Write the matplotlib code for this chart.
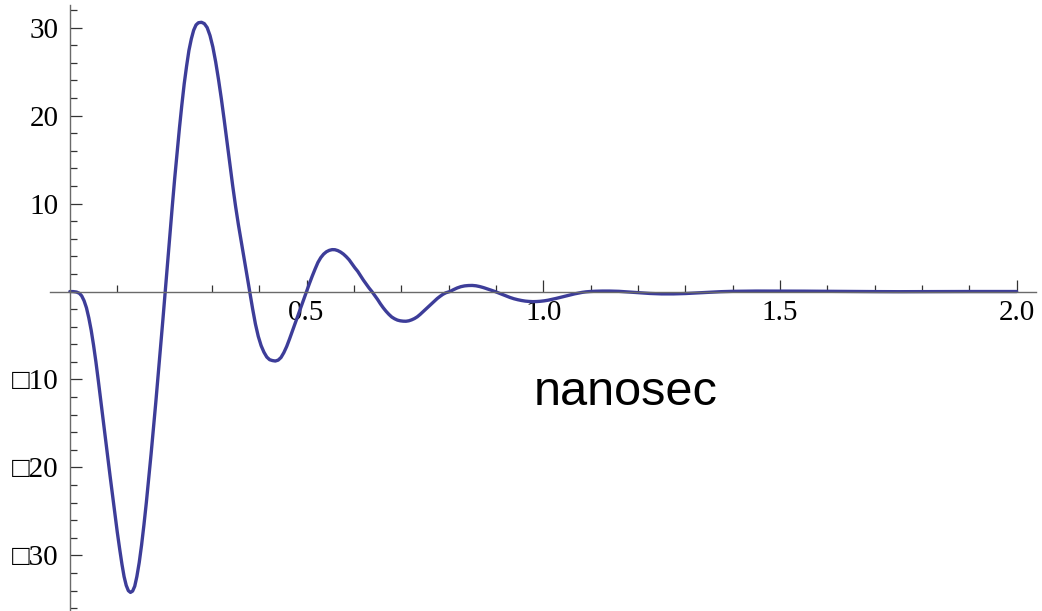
import matplotlib.pyplot as plt
import numpy as np

# time axis (nanoseconds) and response
T_NS = [0.0, 0.007, 0.014, 0.02, 0.025, 0.03, 0.035, 0.04, 0.045, 0.05,
        0.055, 0.06, 0.065, 0.07, 0.075, 0.08, 0.085, 0.09, 0.095, 0.1,
        0.105, 0.11, 0.1145, 0.119, 0.1235, 0.128, 0.1325, 0.137, 0.1415, 0.1465,
        0.1515, 0.1565, 0.1615, 0.1665, 0.1715, 0.1765, 0.1815, 0.1865, 0.1915, 0.1965,
        0.2015, 0.2065, 0.2115, 0.2165, 0.2215, 0.2265, 0.2315, 0.2365, 0.2415, 0.2465,
        0.2515, 0.2565, 0.2615, 0.2665, 0.2715, 0.278, 0.284, 0.29, 0.296, 0.302,
        0.308, 0.314, 0.32, 0.326, 0.332, 0.338, 0.344, 0.35, 0.356, 0.362,
        0.368, 0.374, 0.38, 0.386, 0.392, 0.398, 0.404, 0.41, 0.416, 0.422,
        0.428, 0.434, 0.44, 0.446, 0.452, 0.458, 0.464, 0.47, 0.476, 0.482,
        0.488, 0.494, 0.5, 0.506, 0.512, 0.518, 0.524, 0.53, 0.536, 0.542,
        0.548, 0.554, 0.56, 0.566, 0.572, 0.578, 0.584, 0.59, 0.596, 0.602,
        0.608, 0.614, 0.62, 0.626, 0.632, 0.638, 0.644, 0.65, 0.656, 0.662,
        0.668, 0.674, 0.68, 0.686, 0.692, 0.698, 0.704, 0.71, 0.716, 0.722,
        0.728, 0.734, 0.74, 0.746, 0.752, 0.758, 0.764, 0.77, 0.776, 0.782,
        0.788, 0.794, 0.803, 0.81, 0.818, 0.826, 0.834, 0.842, 0.85, 0.858,
        0.866, 0.874, 0.882, 0.89, 0.898, 0.906, 0.914, 0.922, 0.93, 0.938,
        0.946, 0.954, 0.962, 0.97, 0.978, 0.986, 0.994, 1.002, 1.01, 1.018,
        1.026, 1.034, 1.042, 1.05, 1.058, 1.066, 1.074, 1.082, 1.09, 1.099,
        1.11, 1.125, 1.14, 1.16, 1.18, 1.2, 1.225, 1.25, 1.275, 1.3,
        1.325, 1.35, 1.375, 1.4, 1.45, 1.5, 1.55, 1.6, 1.65, 1.7,
        1.75, 1.8, 1.85, 1.9, 2.0]
SIGNAL = [0.0, -0.01, -0.06, -0.2, -0.5, -1.05, -1.85, -3.0, -4.4, -6.1,
          -8.0, -10.1, -12.3, -14.5, -16.7, -18.9, -21.0, -23.1, -25.2, -27.3,
          -29.2, -31.0, -32.4, -33.4, -34.0, -34.2, -34.05, -33.5, -32.4, -30.8,
          -28.8, -26.5, -24.0, -21.3, -18.5, -15.6, -12.6, -9.5, -6.4, -3.2,
          0.0, 3.3, 6.6, 9.8, 12.9, 15.8, 18.6, 21.2, 23.6, 25.6,
          27.4, 28.7, 29.7, 30.3, 30.55, 30.6, 30.45, 30.0, 29.1, 27.8,
          26.1, 24.1, 21.9, 19.5, 17.0, 14.5, 12.0, 9.7, 7.6, 5.7,
          3.85, 1.95, 0.0, -1.95, -3.7, -5.1, -6.15, -6.9, -7.45, -7.75,
          -7.85, -7.9, -7.8, -7.5, -6.95, -6.25, -5.4, -4.5, -3.6, -2.7,
          -1.8, -0.9, 0.0, 0.9, 1.75, 2.55, 3.3, 3.85, 4.25, 4.52,
          4.68, 4.76, 4.75, 4.65, 4.48, 4.25, 3.95, 3.6, 3.15, 2.7,
          2.3, 1.8, 1.3, 0.85, 0.4, 0.0, -0.45, -0.9, -1.4, -1.85,
          -2.25, -2.6, -2.9, -3.1, -3.25, -3.33, -3.37, -3.38, -3.33, -3.22,
          -3.07, -2.87, -2.6, -2.3, -2.0, -1.7, -1.4, -1.1, -0.8, -0.55,
          -0.32, -0.15, 0.0, 0.2, 0.4, 0.55, 0.64, 0.68, 0.69, 0.65,
          0.56, 0.44, 0.3, 0.15, 0.0, -0.17, -0.35, -0.52, -0.68, -0.82,
          -0.93, -1.02, -1.09, -1.13, -1.15, -1.14, -1.11, -1.06, -0.99, -0.9,
          -0.8, -0.7, -0.59, -0.48, -0.37, -0.27, -0.18, -0.1, -0.04, 0.0,
          0.03, 0.05, 0.05, 0.02, -0.05, -0.13, -0.22, -0.27, -0.27, -0.23,
          -0.16, -0.08, -0.02, 0.02, 0.05, 0.05, 0.04, 0.02, 0.0, -0.01,
          -0.02, -0.01, 0.0, 0.0, 0.0]

X_MAJOR = [0.5, 1.0, 1.5, 2.0]
X_LABELS = ["0.5", "1.0", "1.5", "2.0"]
Y_MAJOR = [-30, -20, -10, 10, 20, 30]
Y_LABELS = ["\u25a130", "\u25a120", "\u25a110", "10", "20", "30"]

plt.rcParams["font.family"] = ["Liberation Serif", "DejaVu Sans"]

fig = plt.figure(figsize=(10.42, 6.11), dpi=100)
ax = fig.add_axes([50 / 1042, 1 / 611, 986 / 1042, 605.3 / 611])

ax.plot(T_NS, SIGNAL, color="#3d3d99", lw=2.4, solid_joinstyle="round",
        solid_capstyle="round")

ax.set_xlim(-0.042, 2.041)
ax.set_ylim(-36.2, 32.6)

for side in ["top", "right"]:
    ax.spines[side].set_visible(False)
for side in ["left", "bottom"]:
    ax.spines[side].set_position(("data", 0))
    ax.spines[side].set_color("#6a6a6a")
    ax.spines[side].set_linewidth(1.0)

ax.set_xticks(X_MAJOR)
ax.set_xticklabels(X_LABELS)
ax.set_xticks([t for t in np.round(np.arange(0.1, 2.01, 0.1), 1) if t not in X_MAJOR], minor=True)
ax.set_yticks(Y_MAJOR)
ax.set_yticklabels(Y_LABELS)
ax.set_yticks([t for t in range(-36, 33, 2) if t not in Y_MAJOR and t != 0], minor=True)

ax.tick_params(axis="both", which="both", direction="in", color="#333333", width=0.9,
               labelsize=21)
ax.tick_params(axis="both", which="major", length=8.5)
ax.tick_params(axis="both", which="minor", length=5)
ax.tick_params(axis="x", which="major", pad=6)
ax.tick_params(axis="y", which="major", pad=8)

ax.text(1.174, -12.9, "nanosec", family="Liberation Sans", fontsize=35,
        ha="center", va="baseline")

fig.savefig("out.png", dpi=100)
